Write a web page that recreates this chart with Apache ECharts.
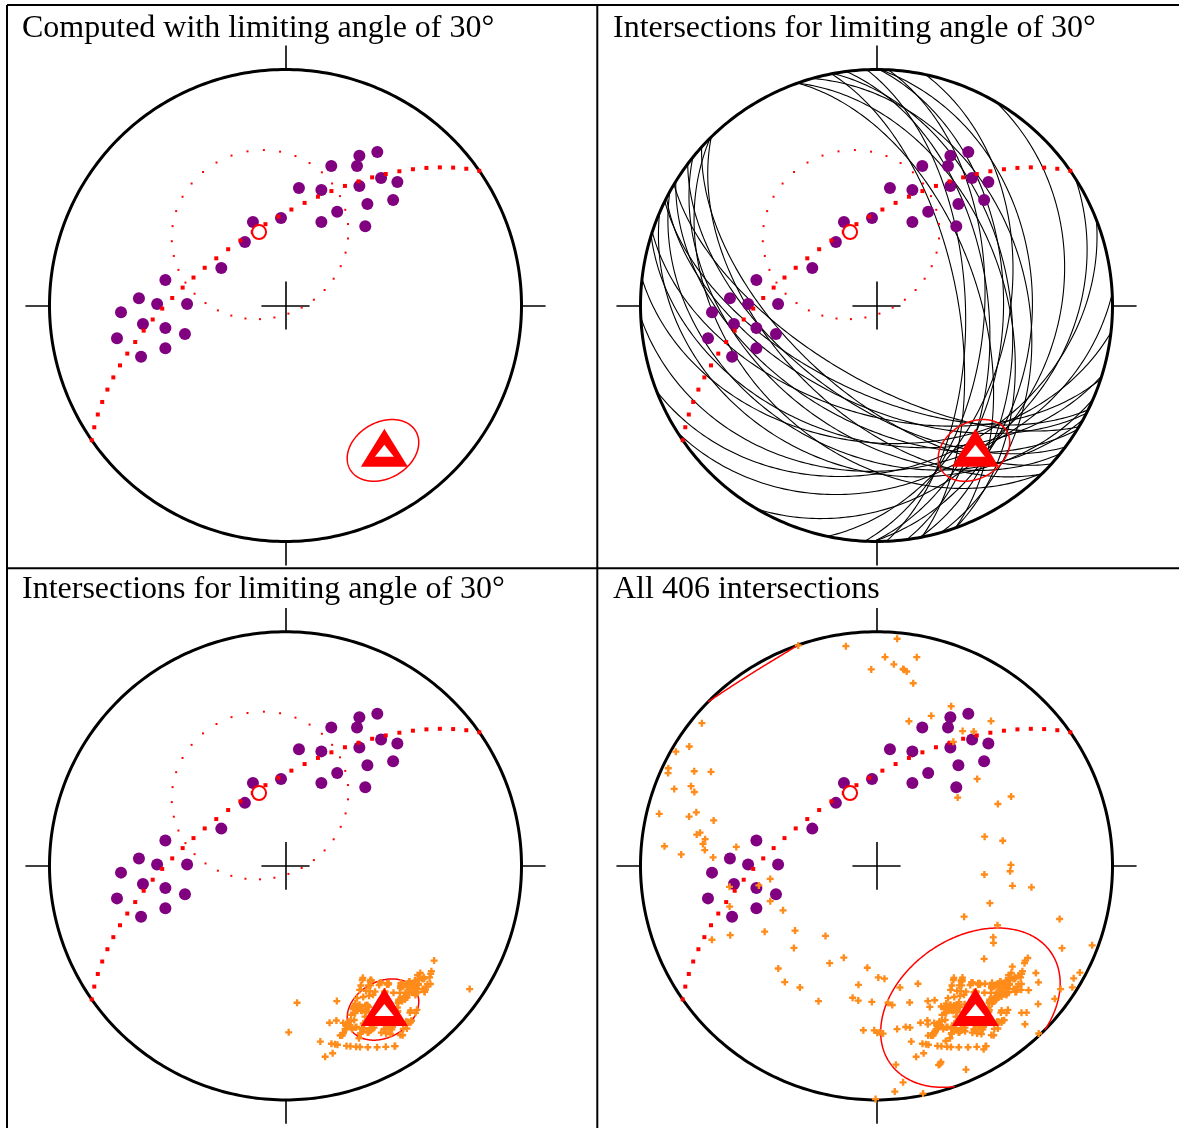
<!DOCTYPE html>
<html>
<head>
<meta charset="utf-8">
<title>Fold axis from bedding intersections</title>
<script src="https://cdn.jsdelivr.net/npm/echarts@6/dist/echarts.min.js"></script>
<style>
    html, body { margin: 0; padding: 0; background: #fff; }
    #chart { width: 1179px; height: 1128px; }
</style>
</head>
<body>
<div id="chart"></div>
<script>
// Poles to bedding (x = east, y = north, 1 = net radius)
var poleX = [0.389, 0.313, 0.194, 0.303, 0.405, 0.474, 0.057, 0.152, 0.313, 0.347,
             0.456, 0.219, 0.152, 0.338, -0.019, -0.138, -0.172, -0.272, -0.509, -0.621,
             -0.544, -0.417, -0.697, -0.604, -0.509, -0.426, -0.714, -0.509, -0.612];
var poleY = [0.650, 0.635, 0.591, 0.591, 0.540, 0.523, 0.498, 0.489, 0.506, 0.430,
             0.447, 0.397, 0.354, 0.336, 0.371, 0.354, 0.269, 0.159, 0.108, 0.031,
             0.006, 0.006, -0.029, -0.078, -0.095, -0.121, -0.139, -0.181, -0.217];

// Mean pole (open circle) and fold axis (triangle), net coordinates
var meanPole = [-0.112, 0.311];
var foldAxis = [0.419, -0.603];
var limitAngle = 30;

// Confidence regions: centre x, centre y, semi-axis a, semi-axis b, tilt in degrees
var coneLimited = [0.413, -0.614, 0.161, 0.119, 30];
var coneAll = [0.398, -0.606, 0.415, 0.297, 35];

var panelTitles = [
    'Computed with limiting angle of 30\u00b0',
    'Intersections for limiting angle of 30\u00b0',
    'Intersections for limiting angle of 30\u00b0',
    'All 406 intersections'
];

// layout
var R = 236, L = 1.12;
var centres = [[285.5, 305.5], [876.5, 305.5], [285.5, 868], [876.5, 868]];
var titlePos = [[22, 12.5], [613, 12.5], [22, 574], [613, 574]];

// ---- Equal-area (Schmidt) lower hemisphere helpers
function toVec(p) {
    var r2 = p[0] * p[0] + p[1] * p[1];
    var k = Math.sqrt(2 - r2);
    return [p[0] * k, p[1] * k, 1 - r2];
}
function toNet(v) {
    if (v[2] < 0) v = [-v[0], -v[1], -v[2]];
    var k = Math.sqrt(1 + v[2]);
    return [v[0] / k, v[1] / k];
}
function cross(a, b) {
    return [a[1] * b[2] - a[2] * b[1], a[2] * b[0] - a[0] * b[2], a[0] * b[1] - a[1] * b[0]];
}
function dot(a, b) { return a[0] * b[0] + a[1] * b[1] + a[2] * b[2]; }
function norm(a) {
    var l = Math.sqrt(dot(a, a));
    return [a[0] / l, a[1] / l, a[2] / l];
}

function greatCircle(pole, step) {
    var s = norm([pole[1], -pole[0], 0]);
    var d = cross(pole, s);
    if (d[2] < 0) d = [-d[0], -d[1], -d[2]];
    var pts = [];
    for (var t = 0; t <= 180.001; t += step) {
        var a = t * Math.PI / 180;
        pts.push(toNet([s[0] * Math.cos(a) + d[0] * Math.sin(a),
                        s[1] * Math.cos(a) + d[1] * Math.sin(a),
                        s[2] * Math.cos(a) + d[2] * Math.sin(a)]));
    }
    return pts;
}

function smallCircle(axis, angle, step) {
    var u1 = norm([axis[1], -axis[0], 0]);
    var u2 = cross(axis, u1);
    var ca = Math.cos(angle * Math.PI / 180), sa = Math.sin(angle * Math.PI / 180);
    var pts = [];
    for (var t = 0; t < 360; t += step) {
        var f = t * Math.PI / 180;
        pts.push(toNet([ca * axis[0] + sa * (Math.cos(f) * u1[0] + Math.sin(f) * u2[0]),
                        ca * axis[1] + sa * (Math.cos(f) * u1[1] + Math.sin(f) * u2[1]),
                        ca * axis[2] + sa * (Math.cos(f) * u1[2] + Math.sin(f) * u2[2])]));
    }
    return pts;
}

// ellipse in the extended projection, parts beyond the primitive folded to the antipode
function inside(p) { return p[0] * p[0] + p[1] * p[1] <= 1; }
function fold(p) {
    var r2 = p[0] * p[0] + p[1] * p[1];
    if (r2 <= 1) return p;
    var k = Math.sqrt(Math.max(0, 2 - r2) / r2);
    return [-p[0] * k, -p[1] * k];
}
function coneOutline(c) {
    var psi = c[4] * Math.PI / 180;
    var pts = [];
    for (var k = 0; k < 360; k++) {
        var f = k * Math.PI / 180;
        pts.push([c[0] + c[2] * Math.cos(f) * Math.cos(psi) - c[3] * Math.sin(f) * Math.sin(psi),
                  c[1] + c[2] * Math.cos(f) * Math.sin(psi) + c[3] * Math.sin(f) * Math.cos(psi)]);
    }
    var n = pts.length, start = 0;
    for (var i = 0; i < n; i++) {
        if (inside(pts[(i + n - 1) % n]) !== inside(pts[i])) { start = i; break; }
    }
    var segs = [], cur = [];
    for (var j = 0; j <= n; j++) {
        var p = pts[(start + j) % n];
        if (j > 0) {
            var q = pts[(start + j - 1) % n];
            if (inside(p) !== inside(q)) {
                var rq = Math.hypot(q[0], q[1]), rp = Math.hypot(p[0], p[1]);
                var t = (1 - rq) / (rp - rq);
                var m = [q[0] + t * (p[0] - q[0]), q[1] + t * (p[1] - q[1])];
                var rm = Math.hypot(m[0], m[1]);
                var edge = [m[0] / rm, m[1] / rm];
                var anti = [-edge[0], -edge[1]];
                cur.push(inside(q) ? edge : anti);
                segs.push(cur);
                cur = [inside(p) ? edge : anti];
            }
        }
        cur.push(fold(p));
    }
    segs.push(cur);
    return segs.map(function (s) { return { coords: s }; });
}

// ---- derived geometry
var poles = poleX.map(function (x, i) { return toVec([x, poleY[i]]); });
var poleDots = poleX.map(function (x, i) { return [x, poleY[i]]; });
var girdle = greatCircle(toVec(foldAxis), 5);
var meanCone = smallCircle(toVec(meanPole), limitAngle, 10);
var beddingCircles = poles.map(function (p) { return { coords: greatCircle(p, 1) }; });

var allInts = [], limitedInts = [];
for (var i = 0; i < poles.length; i++) {
    for (var j = i + 1; j < poles.length; j++) {
        var c = cross(poles[i], poles[j]);
        var len = Math.sqrt(dot(c, c));
        if (len < 1e-9) continue;
        var pt = toNet([c[0] / len, c[1] / len, c[2] / len]);
        var ang = Math.acos(Math.min(1, Math.abs(dot(poles[i], poles[j])))) * 180 / Math.PI;
        allInts.push(pt);
        if (ang >= limitAngle) limitedInts.push(pt);
    }
}

var primitive = [];
for (var a = 0; a <= 360; a++) {
    primitive.push([Math.cos(a * Math.PI / 180), Math.sin(a * Math.PI / 180)]);
}
var T = 1.102, C = 0.102;
var frameTicks = [
    { coords: [[0, 1], [0, T]] }, { coords: [[0, -1], [0, -T]] },
    { coords: [[1, 0], [T, 0]] }, { coords: [[-1, 0], [-T, 0]] },
    { coords: [[-C, 0], [C, 0]] }, { coords: [[0, -C], [0, C]] }
];

var plus = 'path://M2,0H4V2H6V4H4V6H2V4H0V2H2Z';

function linesSeries(g, data, color, width, poly) {
    return {
        type: 'lines', coordinateSystem: 'cartesian2d', xAxisIndex: g, yAxisIndex: g,
        polyline: poly, silent: true, data: data,
        lineStyle: { color: color, width: width, opacity: 1 }
    };
}
function scatterSeries(g, data, symbol, size, style, offset) {
    return {
        type: 'scatter', xAxisIndex: g, yAxisIndex: g, silent: true,
        symbol: symbol, symbolSize: size, symbolOffset: offset || [0, 0],
        data: data, itemStyle: Object.assign({ opacity: 1 }, style)
    };
}

var grids = [], xAxes = [], yAxes = [], series = [], graphics = [];
centres.forEach(function (cxy, g) {
    grids.push({ left: cxy[0] - R * L, top: cxy[1] - R * L, width: 2 * R * L, height: 2 * R * L });
    xAxes.push({ gridIndex: g, type: 'value', min: -L, max: L, show: false });
    yAxes.push({ gridIndex: g, type: 'value', min: -L, max: L, show: false });

    if (g === 1) series.push(linesSeries(g, beddingCircles, '#000', 1.1, true));
    series.push(linesSeries(g, [{ coords: primitive }], '#000', 3, true));
    series.push(linesSeries(g, frameTicks, '#000', 1.6, false));
    series.push(scatterSeries(g, poleDots, 'circle', 12, { color: '#800080' }));
    series.push(scatterSeries(g, girdle, 'rect', 4, { color: '#ff0000' }));
    if (g !== 3) series.push(scatterSeries(g, meanCone, 'rect', 2, { color: '#ff0000' }));
    if (g === 2) series.push(scatterSeries(g, limitedInts, plus, 7, { color: '#ff8c1a' }));
    if (g === 3) series.push(scatterSeries(g, allInts, plus, 7, { color: '#ff8c1a' }));
    series.push(scatterSeries(g, [meanPole], 'circle', 14,
        { color: '#fff', borderColor: '#ff0000', borderWidth: 2 }));
    series.push(linesSeries(g, coneOutline(g === 3 ? coneAll : coneLimited), '#ff0000', 1.5, true));
    series.push(scatterSeries(g, [foldAxis], 'triangle', [47, 38], { color: '#ff0000' }));
    series.push(scatterSeries(g, [foldAxis], 'triangle', [19, 12], { color: '#fff' }, [0, 3]));

    graphics.push({
        type: 'text', x: titlePos[g][0], y: titlePos[g][1], silent: true,
        style: {
            text: panelTitles[g], fill: '#000',
            font: '32px "Liberation Serif", "Times New Roman", serif',
            verticalAlign: 'top'
        }
    });
});

// panel frame
var frameLines = [[7, 5, 7, 1128], [7, 5, 1179, 5], [597.3, 5, 597.3, 1128], [7, 568.2, 1179, 568.2]];
frameLines.forEach(function (f) {
    graphics.push({
        type: 'line', silent: true,
        shape: { x1: f[0], y1: f[1], x2: f[2], y2: f[3] },
        style: { stroke: '#000', lineWidth: 2 }
    });
});

var chart = echarts.init(document.getElementById('chart'));
chart.setOption({
    animation: false,
    backgroundColor: '#fff',
    grid: grids,
    xAxis: xAxes,
    yAxis: yAxes,
    series: series,
    graphic: graphics
});
</script>
</body>
</html>
